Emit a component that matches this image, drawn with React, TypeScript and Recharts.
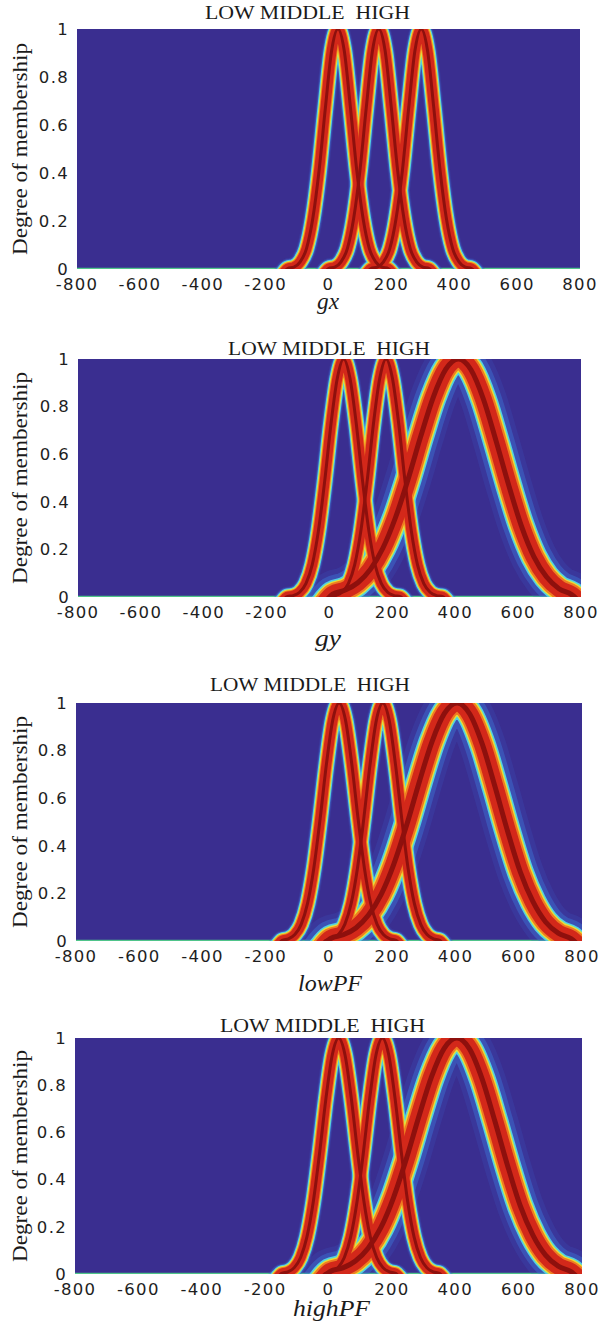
import { LineChart, Line, XAxis, YAxis, CartesianGrid } from 'recharts';

const X_TICKS = [-800, -600, -400, -200, 0, 200, 400, 600, 800];
const Y_TICKS = [0, 0.2, 0.4, 0.6, 0.8, 1];
const TERMS = 'LOW MIDDLE  HIGH';
const Y_TITLE = 'Degree of membership';

const BASE_X = [-800, 800];
const BASE_Y = [0, 0];

// gx  (end points sit just under the axis so the band runs out into it)
const gxLowX = [-150, -130, -110, -90, -70, -50, -30, -10, 10, 30, 50, 70, 90, 110, 130, 150, 170, 190, 210];
const gxLowY = [-0.03, 0.002, 0.008, 0.03, 0.085, 0.21, 0.41, 0.67, 0.91, 1, 0.91, 0.67, 0.41, 0.21, 0.085, 0.03, 0.008, 0.002, -0.03];
const gxMidX = [-20, 0, 20, 40, 60, 80, 100, 120, 140, 160, 180, 200, 220, 240, 260, 280, 300, 320, 340];
const gxMidY = [-0.03, 0.002, 0.008, 0.03, 0.085, 0.21, 0.41, 0.67, 0.91, 1, 0.91, 0.67, 0.41, 0.21, 0.085, 0.03, 0.008, 0.002, -0.03];
const gxHighX = [115, 135, 155, 175, 195, 215, 235, 255, 275, 295, 315, 335, 355, 375, 395, 415, 435, 455, 475];
const gxHighY = [-0.03, 0.002, 0.008, 0.03, 0.085, 0.21, 0.41, 0.67, 0.91, 1, 0.91, 0.67, 0.41, 0.21, 0.085, 0.03, 0.008, 0.002, -0.03];

// gy
const gyLowX = [-155, -135, -115, -95, -75, -55, -35, -15, 5, 25, 45, 65, 85, 105, 125, 145, 165, 185, 205, 225, 245];
const gyLowY = [-0.03, 0.0015, 0.006, 0.02, 0.056, 0.135, 0.28, 0.49, 0.73, 0.92, 1, 0.92, 0.73, 0.49, 0.28, 0.135, 0.056, 0.02, 0.006, 0.0015, -0.03];
const gyMidX = [-20, 0, 20, 40, 60, 80, 100, 120, 140, 160, 180, 200, 220, 240, 260, 280, 300, 320, 340, 360, 380];
const gyMidY = [-0.03, 0.0015, 0.006, 0.02, 0.056, 0.135, 0.28, 0.49, 0.73, 0.92, 1, 0.92, 0.73, 0.49, 0.28, 0.135, 0.056, 0.02, 0.006, 0.0015, -0.03];
const gyHighX = [-30, 10, 50, 90, 130, 170, 210, 250, 290, 330, 370, 410, 450, 490, 530, 570, 610, 650, 690, 730, 770, 810];
const gyHighY = [-0.05, 0.012, 0.029, 0.06, 0.116, 0.206, 0.334, 0.495, 0.674, 0.839, 0.957, 1, 0.955, 0.83, 0.655, 0.47, 0.3, 0.17, 0.085, 0.035, 0.01, -0.04];

// lowPF / highPF (same shapes in both panels)
const pfLowX = [-168, -148, -128, -108, -88, -68, -48, -28, -8, 12, 32, 52, 72, 92, 112, 132, 152, 172, 192, 212, 232];
const pfLowY = [-0.03, 0.0025, 0.009, 0.027, 0.07, 0.157, 0.306, 0.514, 0.744, 0.929, 1, 0.929, 0.744, 0.514, 0.306, 0.157, 0.07, 0.027, 0.009, 0.0025, -0.03];
const pfMidX = [-30, -10, 10, 30, 50, 70, 90, 110, 130, 150, 170, 190, 210, 230, 250, 270, 290, 310, 330, 350, 370];
const pfMidY = [-0.03, 0.0025, 0.009, 0.027, 0.07, 0.157, 0.306, 0.514, 0.744, 0.929, 1, 0.929, 0.744, 0.514, 0.306, 0.157, 0.07, 0.027, 0.009, 0.0025, -0.03];
const pfHighX = [-35, 5, 45, 85, 125, 165, 205, 245, 285, 325, 365, 405, 445, 485, 525, 565, 605, 645, 685, 725, 765, 805];
const pfHighY = [-0.05, 0.011, 0.026, 0.055, 0.109, 0.196, 0.323, 0.485, 0.666, 0.835, 0.956, 1, 0.954, 0.826, 0.648, 0.46, 0.29, 0.165, 0.08, 0.033, 0.01, -0.04];

// jet-like band, outside -> centre (w: narrow curves, ww: wide curve)
const LAYERS = [
  { color: '#3a5cc4', w: 20, ww: 46, op: 0.22 },
  { color: '#3f74d4', w: 18, ww: 36, op: 0.45 },
  { color: '#52cfe4', w: 16, ww: 27, op: 1 },
  { color: '#bfe65c', w: 14, ww: 24, op: 1 },
  { color: '#f5dc2c', w: 13, ww: 22.5, op: 1 },
  { color: '#ef7c22', w: 12, ww: 21, op: 1 },
  { color: '#d3281a', w: 10, ww: 17, op: 1 },
  { color: '#8e100d', w: 3, ww: 5, op: 1 },
];

const pts = (xs: number[], ys: number[]) => xs.map((x, i) => ({ x, y: ys[i] }));

const PANELS = [
  {
    top: 29, bottom: 269, left: 77, right: 580,
    title: { x: 205, y: 19, len: 205 }, xl: { text: 'gx', x: 317, y: 309, len: 22 },
    curves: [
      { data: pts(gxLowX, gxLowY), wide: false },
      { data: pts(gxMidX, gxMidY), wide: false },
      { data: pts(gxHighX, gxHighY), wide: false },
    ],
  },
  {
    top: 359, bottom: 597, left: 78, right: 581,
    title: { x: 228, y: 355, len: 202 }, xl: { text: 'gy', x: 315, y: 646, len: 26 },
    curves: [
      { data: pts(gyLowX, gyLowY), wide: false },
      { data: pts(gyMidX, gyMidY), wide: false },
      { data: pts(gyHighX, gyHighY), wide: true },
    ],
  },
  {
    top: 703, bottom: 941, left: 76, right: 582,
    title: { x: 210, y: 691, len: 200 }, xl: { text: 'lowPF', x: 298, y: 991, len: 64 },
    curves: [
      { data: pts(pfLowX, pfLowY), wide: false },
      { data: pts(pfMidX, pfMidY), wide: false },
      { data: pts(pfHighX, pfHighY), wide: true },
    ],
  },
  {
    top: 1038, bottom: 1274, left: 75, right: 582,
    title: { x: 220, y: 1032, len: 205 }, xl: { text: 'highPF', x: 293, y: 1316, len: 77 },
    curves: [
      { data: pts(pfLowX, pfLowY), wide: false },
      { data: pts(pfMidX, pfMidY), wide: false },
      { data: pts(pfHighX, pfHighY), wide: true },
    ],
  },
];

const tickStyle = { fontSize: 16.5, fill: '#1e1e1e', fontFamily: 'DejaVu Sans', letterSpacing: 1.3 };

function Panel({ p }: { p: (typeof PANELS)[number] }) {
  const h = p.bottom - p.top + 10 + 30;
  return (
    <div style={{ position: 'absolute', left: 0, top: p.top - 10 }}>
      <LineChart width={599} height={h} margin={{ top: 10, right: 599 - p.right, bottom: 0, left: 0 }}>
        <CartesianGrid fill="#3a2e90" stroke="none" horizontal={false} vertical={false} />
        <XAxis
          type="number"
          dataKey="x"
          domain={[-800, 800]}
          ticks={X_TICKS}
          allowDataOverflow
          axisLine={false}
          tickLine={false}
          tickSize={0}
          tickMargin={9}
          height={30}
          interval={0}
          tick={tickStyle}
        />
        <YAxis
          type="number"
          domain={[0, 1]}
          ticks={Y_TICKS}
          allowDataOverflow
          axisLine={false}
          tickLine={false}
          tickSize={0}
          tickMargin={8}
          width={p.left}
          interval={0}
          tick={tickStyle}
        />
        <Line
          data={pts(BASE_X, BASE_Y)}
          dataKey="y"
          stroke="#4fc48a"
          strokeWidth={2.5}
          dot={false}
          activeDot={false}
          isAnimationActive={false}
        />
        {LAYERS.flatMap((l, li) =>
          p.curves.map((c, ci) => (
            <Line
              key={`${li}-${ci}`}
              data={c.data}
              dataKey="y"
              type="monotone"
              stroke={l.color}
              strokeOpacity={l.op}
              strokeWidth={c.wide ? l.ww : l.w}
              strokeLinejoin="round"
              dot={false}
              activeDot={false}
              isAnimationActive={false}
            />
          ))
        )}
      </LineChart>
    </div>
  );
}

export default function App() {
  return (
    <div style={{ position: 'absolute', left: 0, top: 0, width: 599, height: 1331, background: '#fff' }}>
      {PANELS.map((p, i) => (
        <Panel key={i} p={p} />
      ))}
      <svg width={599} height={1331} style={{ position: 'absolute', left: 0, top: 0, pointerEvents: 'none' }}>
        {PANELS.map((p, i) => {
          const cy = (p.top + p.bottom) / 2;
          return (
            <g key={i} fill="#1a1a1a" fontFamily="'Liberation Serif', 'Times New Roman', serif">
              <text
                x={p.title.x}
                y={p.title.y}
                fontSize={19}
                textLength={p.title.len}
                lengthAdjust="spacingAndGlyphs"
                style={{ whiteSpace: 'pre' }}
              >
                {TERMS}
              </text>
              <text
                x={27}
                y={cy}
                fontSize={20}
                textAnchor="middle"
                textLength={212}
                lengthAdjust="spacingAndGlyphs"
                transform={`rotate(-90, 27, ${cy})`}
              >
                {Y_TITLE}
              </text>
              <text
                x={p.xl.x}
                y={p.xl.y}
                fontSize={23}
                fontStyle="italic"
                textLength={p.xl.len}
                lengthAdjust="spacingAndGlyphs"
              >
                {p.xl.text}
              </text>
            </g>
          );
        })}
      </svg>
    </div>
  );
}
